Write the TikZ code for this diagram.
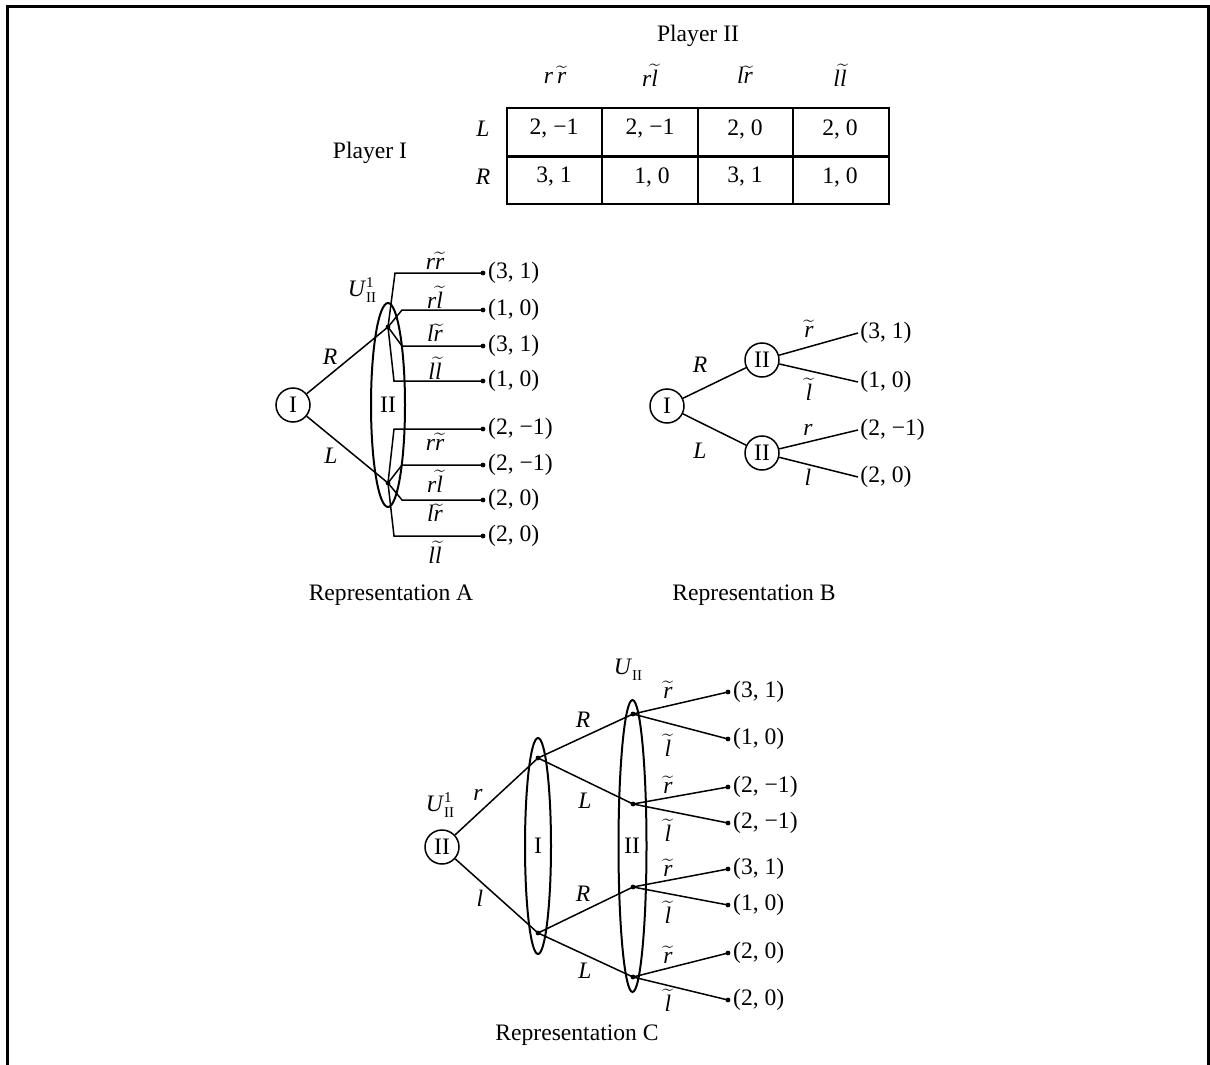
\documentclass[tikz,border=0pt]{standalone}
\usepackage{fontspec}
\setmainfont{Liberation Serif}
\newcommand\fs{\fontsize{11.8}{14}\selectfont}
\newcommand\tl[1]{$\widetilde{\mbox{\itshape #1}}$}
\newcommand\Uii[1]{\textit{U}\rlap{\raisebox{0.85ex}{\fontsize{7.5}{8}\selectfont #1}}\raisebox{-0.55ex}{\fontsize{7.5}{8}\selectfont II}}
\begin{document}
\begin{tikzpicture}[x=0.5pt,y=-0.5pt,
  every node/.style={font=\fs},
  pl/.style={circle,draw,line width=0.75pt,minimum size=17pt,inner sep=0pt},
  dotn/.style={circle,fill,inner sep=0pt,minimum size=2.4pt},
  br/.style={line width=0.75pt},
  pay/.style={anchor=west,inner sep=1pt},
  lab/.style={inner sep=0pt},
  cell/.style={draw,line width=0.9pt,minimum width=47.75pt,minimum height=24pt,inner sep=0pt},
  infoset/.style={line width=1pt}]
\useasboundingbox (0,0) rectangle (1210,1065);
\draw[line width=1.5pt] (7,1065) -- (7,7) -- (1208,7) -- (1208,1065);

% ---------------- Table ----------------
\node (p2) at (698,36) {Player II};
\node (p1) at (370,153) {Player I};
\node (h1) at (555,75) {\textit{r}\,\tl{r}};
\node (h2) at (650,75) {\textit{r}\tl{l}};
\node (h3) at (745,75) {\textit{l}\tl{r}};
\node (h4) at (840,75) {\textit{l}\tl{l}};
\node (rL) at (483,129) {\textit{L}};
\node (rR) at (483,177) {\textit{R}};
\node[cell] (c11) at (554.5,132) {};
\node[cell] (c12) at (650,132) {};
\node[cell] (c13) at (745.5,132) {};
\node[cell] (c14) at (841,132) {};
\node[cell] (c21) at (554.5,180) {};
\node[cell] (c22) at (650,180) {};
\node[cell] (c23) at (745.5,180) {};
\node[cell] (c24) at (841,180) {};
\draw[line width=1.6pt] (c11.south west) -- (c14.south east);
\node (v11) at (554,129) {2, −1};
\node (v12) at (650,129) {2, −1};
\node (v13) at (745,129) {2, 0};
\node (v14) at (840,129) {2, 0};
\node (v21) at (554,177) {3, 1};
\node (v22) at (652,177) {1, 0};
\node (v23) at (745,177) {3, 1};
\node (v24) at (840,177) {1, 0};

% ---------------- Representation A ----------------
\node[pl] (IA) at (293,405) {I};
\draw[infoset] (388,405) ellipse [x radius=8.5pt, y radius=51pt];
\node (IIA) at (388,405) {II};
\node[dotn] (uA) at (388,327) {};
\node[dotn] (lA) at (388,483) {};
\draw[br] (IA) -- (uA.center);
\draw[br] (IA) -- (lA.center);
\node[dotn] (a1) at (483,273) {};
\node[dotn] (a2) at (483,310) {};
\node[dotn] (a3) at (483,346) {};
\node[dotn] (a4) at (483,381) {};
\node[dotn] (a5) at (483,429) {};
\node[dotn] (a6) at (483,465) {};
\node[dotn] (a7) at (483,500) {};
\node[dotn] (a8) at (483,536) {};
\draw[br] (uA.center) -- (395,273) -- (a1.center);
\draw[br] (uA.center) -- (402,310) -- (a2.center);
\draw[br] (uA.center) -- (402,346) -- (a3.center);
\draw[br] (uA.center) -- (394,381) -- (a4.center);
\draw[br] (lA.center) -- (394,429) -- (a5.center);
\draw[br] (lA.center) -- (402,465) -- (a6.center);
\draw[br] (lA.center) -- (402,500) -- (a7.center);
\draw[br] (lA.center) -- (394,536) -- (a8.center);
\node[pay] (pa1) at (a1.east) {(3, 1)};
\node[pay] (pa2) at (a2.east) {(1, 0)};
\node[pay] (pa3) at (a3.east) {(3, 1)};
\node[pay] (pa4) at (a4.east) {(1, 0)};
\node[pay] (pa5) at (a5.east) {(2, −1)};
\node[pay] (pa6) at (a6.east) {(2, −1)};
\node[pay] (pa7) at (a7.east) {(2, 0)};
\node[pay] (pa8) at (a8.east) {(2, 0)};
\node[lab] (la1) at (435,261) {\textit{r}\tl{r}};
\node[lab] (la2) at (435,297) {\textit{r}\tl{l}};
\node[lab] (la3) at (435,333) {\textit{l}\tl{r}};
\node[lab] (la4) at (435,368) {\textit{l}\tl{l}};
\node[lab] (la5) at (435,442) {\textit{r}\tl{r}};
\node[lab] (la6) at (435,481) {\textit{r}\tl{l}};
\node[lab] (la7) at (435,513) {\textit{l}\tl{r}};
\node[lab] (la8) at (435,552) {\textit{l}\tl{l}};
\node (UA) at (362,290) {\Uii{1}};
\node (RA) at (330,357) {\textit{R}};
\node (LA) at (331,456) {\textit{L}};
\node (capA) at (391,595) {Representation A};

% ---------------- Representation B ----------------
\node[pl] (IB) at (667,406) {I};
\node[pl] (uB) at (762,360) {II};
\node[pl] (lB) at (762,453) {II};
\coordinate (b1) at (858,333);
\coordinate (b2) at (858,382);
\coordinate (b3) at (858,430);
\coordinate (b4) at (858,477);
\draw[br] (IB) -- (uB);
\draw[br] (IB) -- (lB);
\draw[br] (uB) -- (b1);
\draw[br] (uB) -- (b2);
\draw[br] (lB) -- (b3);
\draw[br] (lB) -- (b4);
\node[pay] (pb1) at (b1) {(3, 1)};
\node[pay] (pb2) at (b2) {(1, 0)};
\node[pay] (pb3) at (b3) {(2, −1)};
\node[pay] (pb4) at (b4) {(2, 0)};
\node (RB) at (700,365) {\textit{R}};
\node (LB) at (700,451) {\textit{L}};
\node[lab] (rb1) at (809,329) {\tl{r}};
\node[lab] (rb2) at (809,389) {\tl{l}};
\node[lab] (rb3) at (808,430) {\textit{r}};
\node[lab] (rb4) at (808,477) {\textit{l}};
\node (capB) at (754,595) {Representation B};

% ---------------- Representation C ----------------
\node[pl] (IIC) at (442,847) {II};
\draw[infoset] (538,846) ellipse [x radius=6.5pt, y radius=54pt];
\draw[infoset] (632.5,846) ellipse [x radius=7pt, y radius=73pt];
\node (ICl) at (538,846) {I};
\node (IICl) at (632,846) {II};
\node[dotn] (uC) at (538,758) {};
\node[dotn] (lC) at (538,933) {};
\node[dotn] (d1) at (633,714) {};
\node[dotn] (d2) at (633,804) {};
\node[dotn] (d3) at (633,887) {};
\node[dotn] (d4) at (633,977) {};
\draw[br] (IIC) -- (uC.center);
\draw[br] (IIC) -- (lC.center);
\draw[br] (uC.center) -- (d1.center);
\draw[br] (uC.center) -- (d2.center);
\draw[br] (lC.center) -- (d3.center);
\draw[br] (lC.center) -- (d4.center);
\node[dotn] (e1) at (728,692) {};
\node[dotn] (e2) at (728,739) {};
\node[dotn] (e3) at (728,787) {};
\node[dotn] (e4) at (728,823) {};
\node[dotn] (e5) at (728,869) {};
\node[dotn] (e6) at (728,905) {};
\node[dotn] (e7) at (728,953) {};
\node[dotn] (e8) at (728,1000) {};
\draw[br] (d1.center) -- (e1.center);
\draw[br] (d1.center) -- (e2.center);
\draw[br] (d2.center) -- (e3.center);
\draw[br] (d2.center) -- (e4.center);
\draw[br] (d3.center) -- (e5.center);
\draw[br] (d3.center) -- (e6.center);
\draw[br] (d4.center) -- (e7.center);
\draw[br] (d4.center) -- (e8.center);
\node[pay] (pc1) at (e1.east) {(3, 1)};
\node[pay] (pc2) at (e2.east) {(1, 0)};
\node[pay] (pc3) at (e3.east) {(2, −1)};
\node[pay] (pc4) at (e4.east) {(2, −1)};
\node[pay] (pc5) at (e5.east) {(3, 1)};
\node[pay] (pc6) at (e6.east) {(1, 0)};
\node[pay] (pc7) at (e7.east) {(2, 0)};
\node[pay] (pc8) at (e8.east) {(2, 0)};
\node[lab] (tc1) at (668,690) {\tl{r}};
\node[lab] (tc2) at (668,745) {\tl{l}};
\node[lab] (tc3) at (668,785) {\tl{r}};
\node[lab] (tc4) at (668,830) {\tl{l}};
\node[lab] (tc5) at (668,868) {\tl{r}};
\node[lab] (tc6) at (668,912) {\tl{l}};
\node[lab] (tc7) at (668,955) {\tl{r}};
\node[lab] (tc8) at (668,1000) {\tl{l}};
\node (UC) at (628,670) {\textit{U}\raisebox{-0.55ex}{\fontsize{7.5}{8}\selectfont II}};
\node (U1C) at (440,805) {\Uii{1}};
\node (rC) at (478,795) {\textit{r}};
\node (lCl) at (480,898) {\textit{l}};
\node (RC1) at (583,720) {\textit{R}};
\node (LC1) at (585,801) {\textit{L}};
\node (RC2) at (583,894) {\textit{R}};
\node (LC2) at (585,971) {\textit{L}};
\node (capC) at (577,1035) {Representation C};
\end{tikzpicture}
\end{document}
